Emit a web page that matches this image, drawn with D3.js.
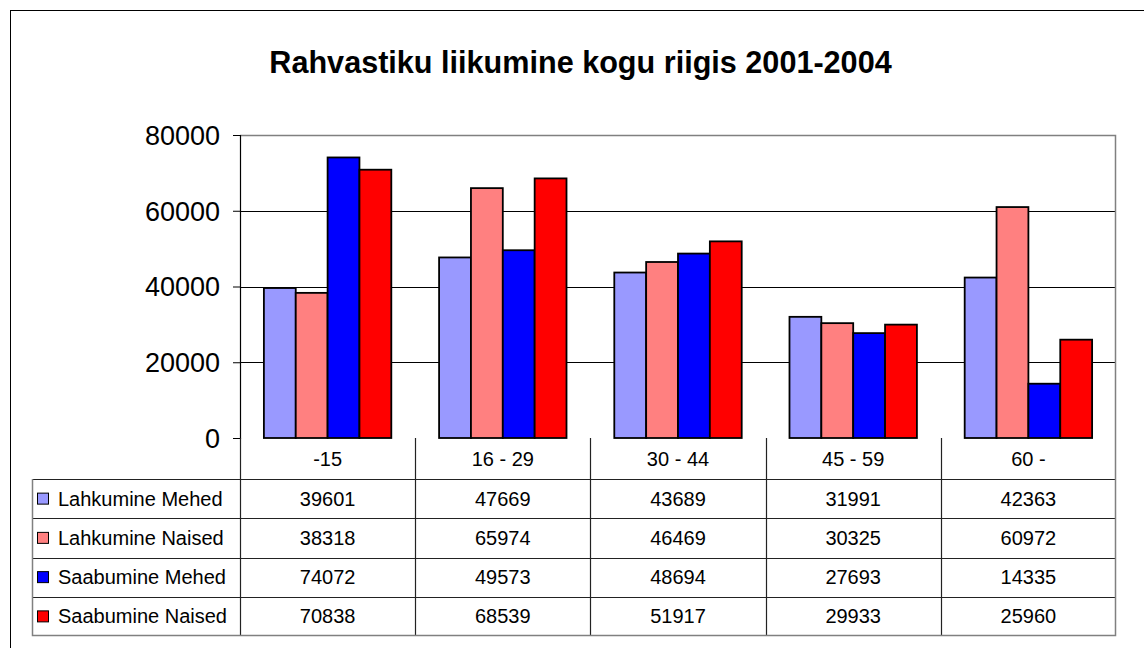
<!DOCTYPE html>
<html>
<head>
<meta charset="utf-8">
<script src="https://cdn.jsdelivr.net/npm/d3@7"></script>
<style>
  html, body { margin: 0; padding: 0; background: #fff; }
  svg { display: block; font-family: Arial, "Liberation Sans", sans-serif; }
</style>
</head>
<body>
<svg id="chart" width="1144" height="648"></svg>
<script>
const title = "Rahvastiku liikumine kogu riigis 2001-2004";
const categories = ["-15", "16 - 29", "30 - 44", "45 - 59", "60 -"];
const seriesNames = ["Lahkumine Mehed", "Lahkumine Naised", "Saabumine Mehed", "Saabumine Naised"];
const lahkumineMehed = [39601, 47669, 43689, 31991, 42363];
const lahkumineNaised = [38318, 65974, 46469, 30325, 60972];
const saabumineMehed = [74072, 49573, 48694, 27693, 14335];
const saabumineNaised = [70838, 68539, 51917, 29933, 25960];
const seriesColors = ["#9999FF", "#FF8080", "#0000FF", "#FF0000"];
const yTicks = [0, 20000, 40000, 60000, 80000];

const seriesValues = [lahkumineMehed, lahkumineNaised, saabumineMehed, saabumineNaised];

const svg = d3.select("#chart");

// outer chart border (extends beyond the visible window on right/bottom)
svg.append("rect").attr("x", 10.5).attr("y", 10.5).attr("width", 1160).attr("height", 660)
  .attr("fill", "#fff").attr("stroke", "#000").attr("stroke-width", 1);

// title
svg.append("text").attr("x", 580.5).attr("y", 73).attr("text-anchor", "middle")
  .attr("font-size", 30.6).attr("font-weight", "bold").attr("fill", "#000").text(title);

const plotLeft = 240, plotRight = 1116, plotTop = 135, plotBottom = 438;

const x0 = d3.scaleBand().domain(categories).range([plotLeft, plotRight]).paddingInner(0).paddingOuter(0);
const bw = x0.bandwidth();
const gapFrac = 1.5 / 5.5;
const x1 = d3.scaleBand().domain(seriesNames).range([bw * gapFrac / 2, bw - bw * gapFrac / 2]).padding(0);
const y = d3.scaleLinear().domain([0, 80000]).range([plotBottom, plotTop]);

// gridlines
const grid = svg.append("g");
grid.selectAll("line").data(yTicks.filter(t => t > 0 && t < 80000)).join("line")
  .attr("x1", plotLeft).attr("x2", plotRight)
  .attr("y1", d => Math.round(y(d)) + 0.5).attr("y2", d => Math.round(y(d)) + 0.5)
  .attr("stroke", "#000").attr("stroke-width", 1);

// plot area border top/right (grey)
svg.append("path")
  .attr("d", `M${plotLeft},${plotTop + 0.5}H${plotRight - 0.5}V${plotBottom}`)
  .attr("fill", "none").attr("stroke", "#808080").attr("stroke-width", 1.5);

// bars
const groups = svg.append("g").selectAll("g").data(categories).join("g")
  .attr("transform", d => `translate(${x0(d)},0)`);
groups.selectAll("rect")
  .data((c, ci) => seriesNames.map((s, si) => ({ s, si, v: seriesValues[si][ci] })))
  .join("rect")
  .attr("x", d => x1(d.s))
  .attr("width", x1.bandwidth())
  .attr("y", d => y(d.v))
  .attr("height", d => plotBottom - y(d.v))
  .attr("fill", d => seriesColors[d.si])
  .attr("stroke", "#000").attr("stroke-width", 1.8);

// y axis
const yAxis = d3.axisLeft(y).tickValues(yTicks).tickSize(7).tickPadding(13).tickFormat(d3.format("d"));
const yg = svg.append("g").attr("transform", `translate(${plotLeft},0)`).call(yAxis);
yg.select(".domain").attr("stroke", "#000").attr("stroke-width", 1.2);
yg.selectAll(".tick line").attr("stroke", "#000");
yg.selectAll(".tick text").attr("font-size", 27).attr("font-family", "Arial, 'Liberation Sans', sans-serif")
  .attr("fill", "#000").attr("dy", "0.35em");

// data table
const tableLeft = 32, headerTop = plotBottom, headerBottom = 479, tableBottom = 636;
const rowScale = d3.scaleBand().domain(seriesNames).range([headerBottom, tableBottom]).padding(0);
const tbl = svg.append("g");

// horizontal inner lines
tbl.selectAll("line.h").data(seriesNames).join("line").attr("class", "h")
  .attr("x1", tableLeft).attr("x2", plotRight)
  .attr("y1", d => Math.round(rowScale(d)) + 0.5).attr("y2", d => Math.round(rowScale(d)) + 0.5)
  .attr("stroke", "#222").attr("stroke-width", 1.2);
// vertical lines between categories (incl. left boundary at plotLeft)
tbl.selectAll("line.v").data(categories).join("line").attr("class", "v")
  .attr("x1", d => Math.round(x0(d)) + 0.5).attr("x2", d => Math.round(x0(d)) + 0.5)
  .attr("y1", headerTop).attr("y2", tableBottom)
  .attr("stroke", "#222").attr("stroke-width", 1.2);
// outer table border (grey)
tbl.append("path")
  .attr("d", `M${tableLeft + 0.5},${headerBottom}V${tableBottom - 0.5}H${plotRight - 0.5}V${headerTop}`)
  .attr("fill", "none").attr("stroke", "#808080").attr("stroke-width", 1.5);

// header labels
tbl.selectAll("text.hdr").data(categories).join("text").attr("class", "hdr")
  .attr("x", d => x0(d) + bw / 2).attr("y", (headerTop + headerBottom) / 2 + 7)
  .attr("text-anchor", "middle").attr("font-size", 20).attr("fill", "#000").text(d => d);

// legend keys and names
const rows = tbl.selectAll("g.row").data(seriesNames).join("g").attr("class", "row")
  .attr("transform", d => `translate(0,${rowScale(d) + rowScale.bandwidth() / 2})`);
rows.append("rect").attr("x", 37.5).attr("y", -5.5).attr("width", 11).attr("height", 11)
  .attr("fill", (d, i) => seriesColors[i]).attr("stroke", "#000").attr("stroke-width", 1);
rows.append("text").attr("x", 58).attr("y", 7).attr("font-size", 20).attr("fill", "#000").text(d => d);
rows.selectAll("text.val")
  .data((s, si) => categories.map((c, ci) => ({ c, v: seriesValues[si][ci] })))
  .join("text").attr("class", "val")
  .attr("x", d => x0(d.c) + bw / 2).attr("y", 7)
  .attr("text-anchor", "middle").attr("font-size", 20).attr("fill", "#000").text(d => d.v);
</script>
</body>
</html>
